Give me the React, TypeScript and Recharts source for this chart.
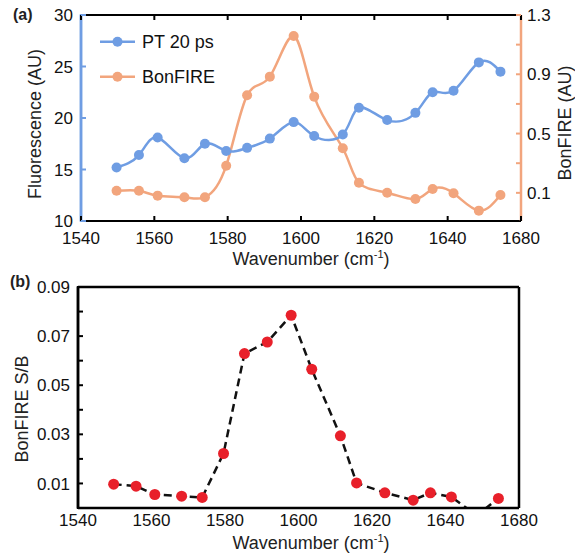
import React from "react"
import {
  LineChart,
  Line,
  XAxis,
  YAxis,
} from "recharts"

// wavenumber positions (cm-1) shared by both panels
const wavenumber = [
  1549.7, 1555.8, 1560.9, 1568.2, 1573.8, 1579.6, 1585.3, 1591.5, 1598,
  1603.6, 1611.4, 1615.8, 1623.5, 1631.2, 1635.9, 1641.6, 1648.5, 1654.4,
]

// panel (a)
const pt20ps = [
  15.2, 16.4, 18.1, 16.1, 17.5, 16.8, 17.1, 18.0, 19.6,
  18.25, 18.4, 21.0, 19.8, 20.5, 22.5, 22.65, 25.4, 24.5,
]
const bonfire = [
  0.114, 0.114, 0.081, 0.07, 0.07, 0.283, 0.758, 0.884, 1.158,
  0.749, 0.401, 0.168, 0.101, 0.058, 0.126, 0.097, -0.02, 0.085,
]

// panel (b)
const bonfireSB = [
  0.0097, 0.0089, 0.0055, 0.0048, 0.0043, 0.0222, 0.0629, 0.0676, 0.0785,
  0.0565, 0.0294, 0.0102, 0.0062, 0.0032, 0.0062, 0.0045, -0.003, 0.0039,
]

const xTicks = [1540, 1560, 1580, 1600, 1620, 1640, 1660]
const xTickLabels = ["1540", "1560", "1580", "1600", "1620", "1640", "1680"]
const fluoTicks = [10, 15, 20, 25, 30]
const bonTicks = [0.1, 0.3, 0.5, 0.7, 0.9, 1.1, 1.3]
const bonLabelled = ["0.1", "", "0.5", "", "0.9", "", "1.3"]
const sbTicks = [0, 0.01, 0.02, 0.03, 0.04, 0.05, 0.06, 0.07, 0.08, 0.09]
const sbLabelled = ["", "0.01", "", "0.03", "", "0.05", "", "0.07", "", "0.09"]

const BLUE = "#6f9de3"
const ORANGE = "#f2a57d"
const RED = "#e8202a"
const INK = "#111"

const dataA = wavenumber.map((w, i) => ({ w, pt: pt20ps[i], bon: bonfire[i] }))
const dataB = wavenumber.map((w, i) => ({ w, sb: bonfireSB[i] }))

const legendItems = [
  { name: "PT 20 ps", color: BLUE },
  { name: "BonFIRE", color: ORANGE },
]

// tick renderers: inward tick mark + outside label
function LeftTick(p: any) {
  const { x, y, payload, color, label, len } = p
  return (
    <g>
      <line x1={x} x2={x + len} y1={y} y2={y} stroke={color} strokeWidth={2} />
      <text x={x - 8} y={y} dy="0.36em" textAnchor="end" fontSize={17} fill={INK}>
        {label ?? payload.value}
      </text>
    </g>
  )
}

function RightTick(p: any) {
  const { x, y, color, label } = p
  return (
    <g>
      <line x1={x - 5} x2={x} y1={y} y2={y} stroke={color} strokeWidth={2} />
      <text x={x + 6} y={y} dy="0.36em" textAnchor="start" fontSize={17} fill={INK}>
        {label}
      </text>
    </g>
  )
}

function BottomTick(p: any) {
  const { x, y, index, len, gap } = p
  return (
    <g>
      {len > 0 && (
        <line x1={x} x2={x} y1={y - len} y2={y} stroke="#000" strokeWidth={2} />
      )}
      <text x={x} y={y + gap} textAnchor="middle" fontSize={17} fill={INK}>
        {xTickLabels[index]}
      </text>
    </g>
  )
}

function TopTick(p: any) {
  const { x, y } = p
  return <line x1={x} x2={x} y1={y} y2={y + 5} stroke="#000" strokeWidth={2} />
}

function XTitle({ x, y }: { x: number; y: number }) {
  return (
    <text x={x} y={y} textAnchor="middle" fontSize={18} fill="#222">
      Wavenumber (cm
      <tspan fontSize={11} dy={-7}>-1</tspan>
      <tspan dy={7}>)</tspan>
    </text>
  )
}

function YTitle({ x, y, text }: { x: number; y: number; text: string }) {
  return (
    <text
      transform={`translate(${x},${y}) rotate(-90)`}
      textAnchor="middle"
      dy="0.35em"
      fontSize={18}
      fill="#222"
    >
      {text}
    </text>
  )
}

export default function App() {
  return (
    <div
      style={{
        position: "absolute",
        left: 0,
        top: 0,
        width: 575,
        height: 556,
        fontFamily: "'Liberation Sans', Arial, sans-serif",
      }}
    >
      <LineChart
        width={575}
        height={270}
        data={dataA}
        margin={{ top: 14, right: 0, bottom: 0, left: 0 }}
      >
        <XAxis
          xAxisId="bottom"
          dataKey="w"
          type="number"
          domain={[1540, 1660]}
          ticks={xTicks}
          interval={0}
          allowDataOverflow
          height={49}
          axisLine={{ stroke: "#000", strokeWidth: 2 }}
          tickLine={false}
          tickSize={0}
          tickMargin={0}
          tick={(p: any) => <BottomTick {...p} len={5} gap={23} />}
        />
        <XAxis
          xAxisId="top"
          orientation="top"
          dataKey="w"
          type="number"
          domain={[1540, 1660]}
          ticks={xTicks}
          interval={0}
          allowDataOverflow
          height={1}
          axisLine={{ stroke: "#000", strokeWidth: 2 }}
          tickLine={false}
          tickSize={0}
          tickMargin={0}
          tick={(p: any) => <TopTick {...p} />}
        />
        <YAxis
          yAxisId="left"
          type="number"
          domain={[10, 30]}
          ticks={fluoTicks}
          interval={0}
          width={81}
          axisLine={{ stroke: BLUE, strokeWidth: 2.5 }}
          tickLine={false}
          tickSize={0}
          tickMargin={0}
          tick={(p: any) => <LeftTick {...p} color={BLUE} len={5} />}
        />
        <YAxis
          yAxisId="right"
          orientation="right"
          type="number"
          domain={[-0.09, 1.3]}
          ticks={bonTicks}
          interval={0}
          width={54}
          axisLine={{ stroke: ORANGE, strokeWidth: 2.5 }}
          tickLine={false}
          tickSize={0}
          tickMargin={0}
          tick={(p: any) => (
            <RightTick {...p} color={ORANGE} label={bonLabelled[p.index]} />
          )}
        />
        <Line
          xAxisId="bottom"
          yAxisId="right"
          type="natural"
          dataKey="bon"
          stroke={ORANGE}
          strokeWidth={2.5}
          dot={{ r: 5, fill: ORANGE, stroke: "none" }}
          isAnimationActive={false}
        />
        <Line
          xAxisId="bottom"
          yAxisId="left"
          type="natural"
          dataKey="pt"
          stroke={BLUE}
          strokeWidth={2.5}
          dot={{ r: 5, fill: BLUE, stroke: "none" }}
          isAnimationActive={false}
        />
        {legendItems.map((it, i) => (
          <g key={it.name}>
            <line
              x1={100}
              x2={135}
              y1={41.7 + i * 35}
              y2={41.7 + i * 35}
              stroke={it.color}
              strokeWidth={2.5}
            />
            <circle cx={117.5} cy={41.7 + i * 35} r={5} fill={it.color} />
            <text x={142} y={48 + i * 35} fontSize={18} fill={INK}>
              {it.name}
            </text>
          </g>
        ))}
        <text x={13} y={20} fontSize={16} fontWeight="bold" fill="#222">
          (a)
        </text>
        <YTitle x={35} y={124} text="Fluorescence (AU)" />
        <YTitle x={565} y={123} text="BonFIRE (AU)" />
        <XTitle x={311} y={265} />
        {/* left frame edge, drawn again on top */}
        <line x1={81} x2={81} y1={14} y2={222} stroke={BLUE} strokeWidth={2.5} />
      </LineChart>

      <LineChart
        width={575}
        height={286}
        data={dataB}
        margin={{ top: 16, right: 0, bottom: 0, left: 0 }}
      >
        <XAxis
          xAxisId="bottom"
          dataKey="w"
          type="number"
          domain={[1540, 1660]}
          ticks={xTicks}
          interval={0}
          allowDataOverflow
          height={48}
          axisLine={{ stroke: "#000", strokeWidth: 2.5 }}
          tickLine={false}
          tickSize={0}
          tickMargin={0}
          tick={(p: any) => <BottomTick {...p} len={0} gap={18} />}
        />
        <XAxis
          xAxisId="top"
          orientation="top"
          dataKey="w"
          type="number"
          domain={[1540, 1660]}
          allowDataOverflow
          height={1}
          axisLine={{ stroke: "#000", strokeWidth: 2.5 }}
          tickLine={false}
          tick={false}
        />
        <YAxis
          yAxisId="left"
          type="number"
          domain={[0, 0.09]}
          ticks={sbTicks}
          interval={0}
          allowDataOverflow
          width={78}
          axisLine={{ stroke: "#000", strokeWidth: 2.5 }}
          tickLine={false}
          tickSize={0}
          tickMargin={0}
          tick={(p: any) => (
            <LeftTick {...p} color="#000" len={5} label={sbLabelled[p.index]} />
          )}
        />
        <YAxis
          yAxisId="right"
          orientation="right"
          type="number"
          domain={[0, 0.09]}
          allowDataOverflow
          width={56}
          axisLine={{ stroke: "#000", strokeWidth: 2.5 }}
          tickLine={false}
          tick={false}
        />
        <Line
          xAxisId="bottom"
          yAxisId="left"
          type="linear"
          dataKey="sb"
          stroke="#111"
          strokeWidth={2.5}
          strokeDasharray="8 5"
          dot={{ r: 5.5, fill: RED, stroke: "none" }}
          isAnimationActive={false}
        />
        <text x={10} y={17} fontSize={16} fontWeight="bold" fill="#222">
          (b)
        </text>
        <YTitle x={22} y={139} text="BonFIRE S/B" />
        <XTitle x={311} y={279} />
        <line x1={78} x2={78} y1={16} y2={239} stroke="#000" strokeWidth={2.5} />
      </LineChart>
    </div>
  )
}
